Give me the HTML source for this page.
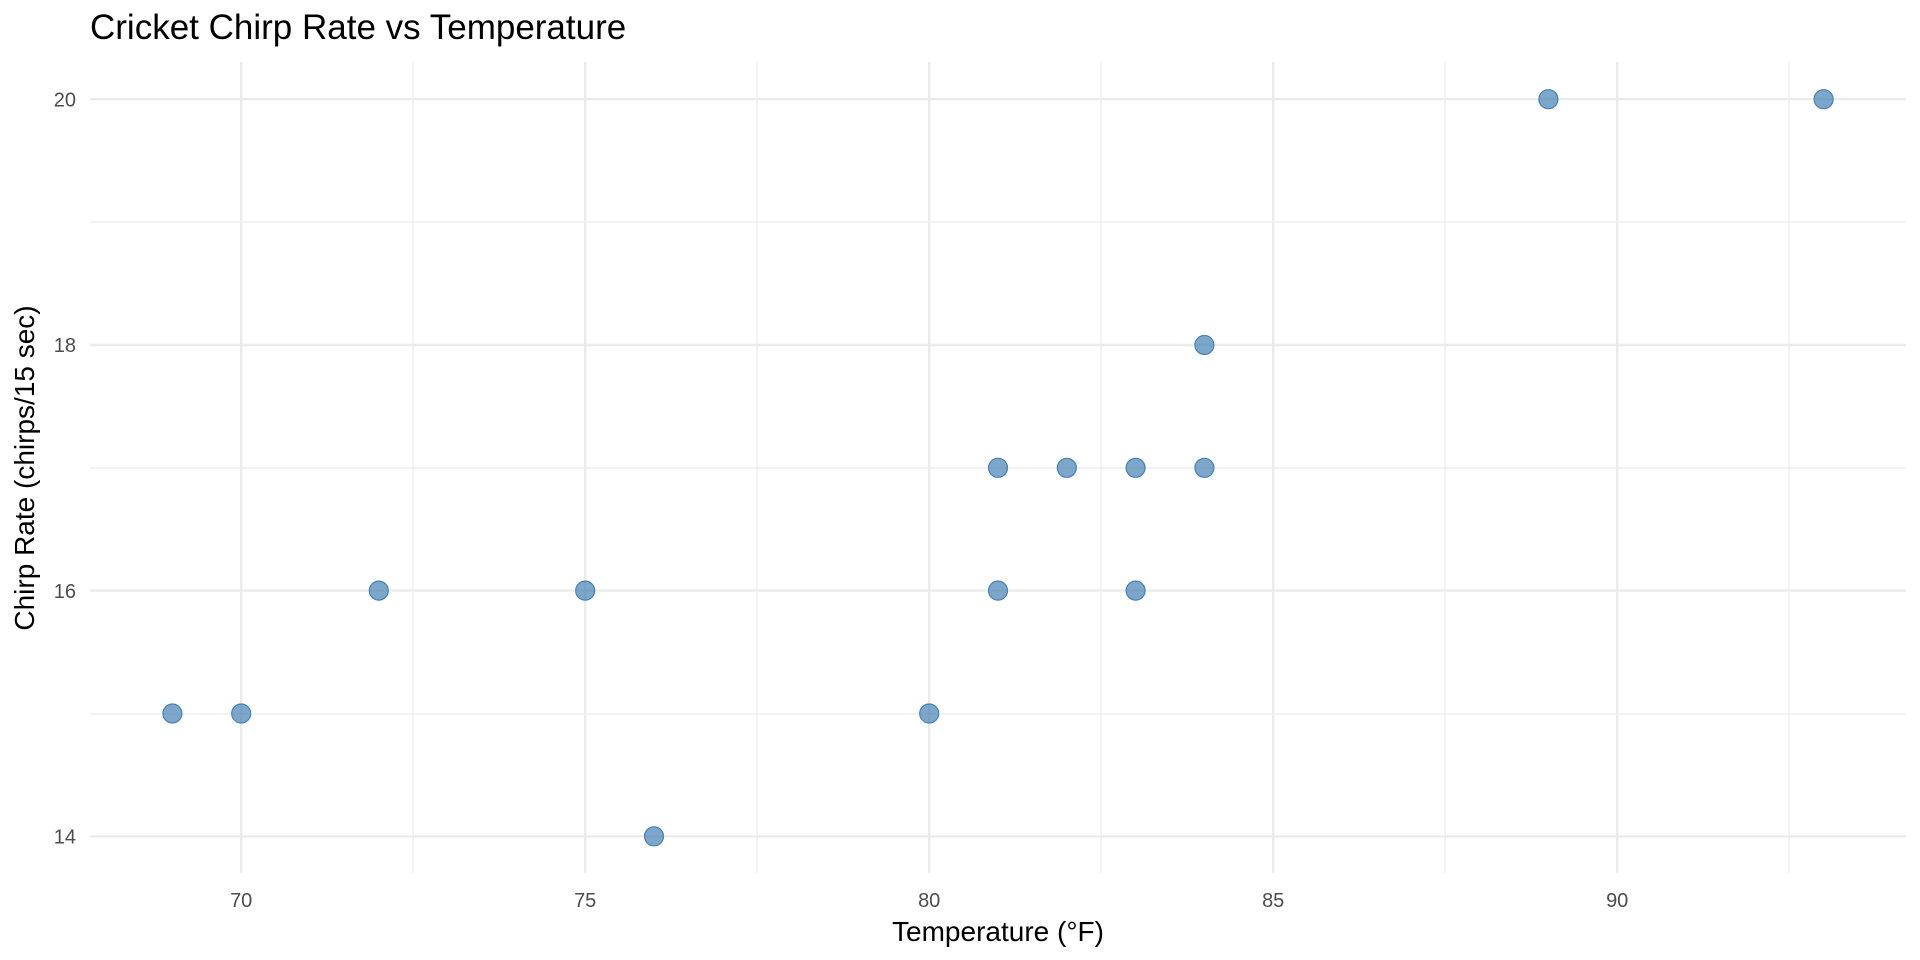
<!DOCTYPE html>
<html><head><style>body{margin:0;background:#fff}svg{display:block}text{font-family:"Liberation Sans",sans-serif}</style></head>
<body>
<svg width="1920" height="960" viewBox="0 0 1920 960">
<rect width="1920" height="960" fill="#fff"/>
<g stroke="#ebebeb" stroke-width="1.2">
<line x1="90" x2="1906" y1="222" y2="222"/><line x1="90" x2="1906" y1="468" y2="468"/><line x1="90" x2="1906" y1="714" y2="714"/>
<line x1="413" x2="413" y1="62" y2="873"/><line x1="757" x2="757" y1="62" y2="873"/><line x1="1101" x2="1101" y1="62" y2="873"/><line x1="1445" x2="1445" y1="62" y2="873"/><line x1="1789" x2="1789" y1="62" y2="873"/>
</g>
<g stroke="#ebebeb" stroke-width="2.4">
<line x1="90" x2="1906" y1="99.2" y2="99.2"/><line x1="90" x2="1906" y1="345" y2="345"/><line x1="90" x2="1906" y1="590.6" y2="590.6"/><line x1="90" x2="1906" y1="836.3" y2="836.3"/>
<line x1="241.2" x2="241.2" y1="62" y2="873"/><line x1="585.2" x2="585.2" y1="62" y2="873"/><line x1="929.2" x2="929.2" y1="62" y2="873"/><line x1="1273.2" x2="1273.2" y1="62" y2="873"/><line x1="1617.2" x2="1617.2" y1="62" y2="873"/>
</g>
<g fill="rgba(70,130,180,0.7)" stroke="#4682b4" stroke-width="1.2">
<circle cx="172.4" cy="713.5" r="9.5"/><circle cx="241.2" cy="713.5" r="9.5"/><circle cx="378.8" cy="590.6" r="9.5"/><circle cx="585.2" cy="590.6" r="9.5"/><circle cx="654" cy="836.3" r="9.5"/><circle cx="929.2" cy="713.5" r="9.5"/><circle cx="998" cy="467.8" r="9.5"/><circle cx="1066.8" cy="467.8" r="9.5"/><circle cx="1135.6" cy="467.8" r="9.5"/><circle cx="1204.4" cy="467.8" r="9.5"/><circle cx="1204.4" cy="345" r="9.5"/><circle cx="998" cy="590.6" r="9.5"/><circle cx="1135.6" cy="590.6" r="9.5"/><circle cx="1548.4" cy="99.2" r="9.5"/><circle cx="1823.6" cy="99.2" r="9.5"/>
</g>
<g fill="#4d4d4d" font-size="20" text-anchor="end">
<text x="76" y="106.5">20</text><text x="76" y="352">18</text><text x="76" y="598">16</text><text x="76" y="843.5">14</text>
</g>
<g fill="#4d4d4d" font-size="20" text-anchor="middle">
<text x="241.2" y="907">70</text><text x="585.2" y="907">75</text><text x="929.2" y="907">80</text><text x="1273.2" y="907">85</text><text x="1617.2" y="907">90</text>
</g>
<text x="998" y="941" font-size="28" text-anchor="middle" fill="#000">Temperature (°F)</text>
<text transform="translate(34,468) rotate(-90)" font-size="28" text-anchor="middle" fill="#000">Chirp Rate (chirps/15 sec)</text>
<text x="90" y="39" font-size="35" fill="#000">Cricket Chirp Rate vs Temperature</text>
</svg>
</body></html>
